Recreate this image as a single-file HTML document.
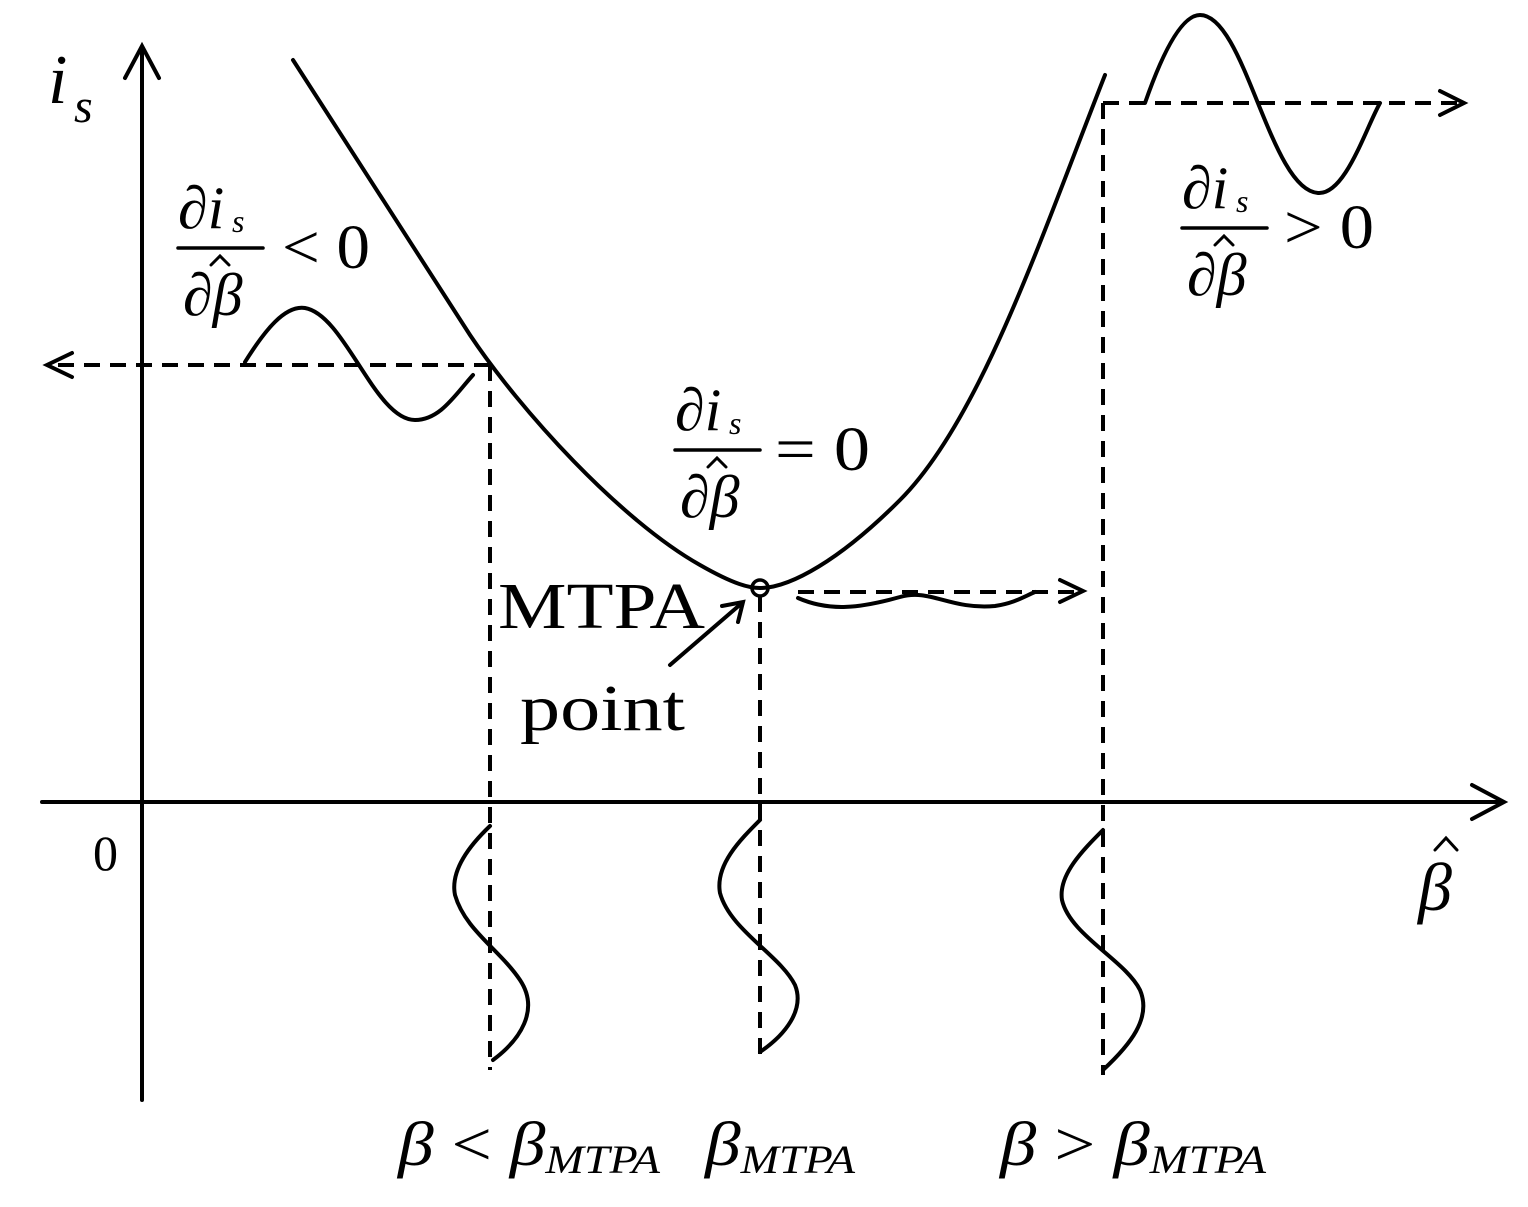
<!DOCTYPE html>
<html><head><meta charset="utf-8"><style>html,body{margin:0;padding:0;background:#fff}svg{display:block}text{font-family:"Liberation Serif","DejaVu Serif",serif;fill:#000}</style></head><body>
<svg width="1528" height="1207" viewBox="0 0 1528 1207" xmlns="http://www.w3.org/2000/svg">
<g fill="none" stroke="#000" stroke-width="4" stroke-linecap="round">
<line x1="142" y1="1100" x2="142" y2="48"/>
<polyline points="125,78 142,46 159,78"/>
<line x1="42" y1="802" x2="1503" y2="802"/>
<polyline points="1472,785 1504,802 1472,819"/>
<path d="M293,60 L470,335 C520,410 620,520 700,565 C735,585 750,588 760,588 C790,588 840,560 900,500 C980,420 1040,240 1105,75"/>
<circle cx="760" cy="588" r="8" stroke-width="3.5"/>
<g stroke-dasharray="16,10" stroke-linecap="butt">
<line x1="490" y1="365" x2="52" y2="365"/>
<line x1="490" y1="365" x2="490" y2="1070"/>
<line x1="760" y1="596" x2="760" y2="1055"/>
<line x1="1103" y1="103" x2="1103" y2="1075"/>
<line x1="1103" y1="103" x2="1460" y2="103"/>
<line x1="798" y1="592" x2="1082" y2="592"/>
</g>
<polyline points="72,353 47,365 72,377"/>
<polyline points="1440,91 1464,103 1440,115"/>
<polyline points="1060,580 1083,591 1060,602"/>
<path d="M245,362 C265,330 285,305 305,308 C345,315 375,420 415,420 C440,420 455,395 473,375"/>
<path d="M1145,103 C1160,60 1180,15 1200,15 C1245,15 1270,190 1318,193 C1345,195 1365,130 1380,103"/>
<path d="M798,598 C830,612 860,608 900,597 C930,588 950,610 995,606 C1015,603 1025,596 1035,592"/>
<path d="M490,826 C470,845 450,870 455,895 C465,930 500,950 520,980 C540,1010 520,1040 493,1060"/>
<path d="M760,820 C740,840 715,865 720,893 C730,930 780,955 795,985 C805,1010 785,1035 760,1052"/>
<path d="M1103,830 C1083,850 1058,875 1062,900 C1070,935 1125,960 1140,990 C1152,1018 1130,1045 1103,1070"/>
<line x1="670" y1="665" x2="742" y2="603"/>
<polyline points="722,606 743,602 738,622"/>
<line x1="178" y1="248" x2="263" y2="248" stroke-width="3.5"/>
<line x1="675" y1="450" x2="760" y2="450" stroke-width="3.5"/>
<line x1="1182" y1="228" x2="1267" y2="228" stroke-width="3.5"/>
<g stroke-width="3">
<polyline points="211,265 220,256 229,265"/>
<polyline points="708,467 717,458 726,467"/>
<polyline points="1215,245 1224,236 1233,245"/>
<polyline points="1435,850 1446,838 1457,850"/>
</g>
</g>
<text x="48" y="103" font-size="70" font-style="italic">i</text>
<text x="74" y="122" font-size="48" font-style="italic">s</text>
<text x="93" y="870" font-size="50">0</text>
<text x="1418" y="910" font-size="68" font-style="italic">β</text>
<text x="178" y="228" font-size="60">∂<tspan font-style="italic">i</tspan></text>
<text x="232" y="232" font-size="32" font-style="italic">s</text>
<text x="183" y="315" font-size="60">∂<tspan font-style="italic">β</tspan></text>
<text x="282" y="268" font-size="62" textLength="88" lengthAdjust="spacingAndGlyphs">&lt; 0</text>
<text x="675" y="430" font-size="60">∂<tspan font-style="italic">i</tspan></text>
<text x="729" y="434" font-size="32" font-style="italic">s</text>
<text x="680" y="517" font-size="60">∂<tspan font-style="italic">β</tspan></text>
<text x="775" y="470" font-size="62" textLength="95" lengthAdjust="spacingAndGlyphs">= 0</text>
<text x="1182" y="208" font-size="60">∂<tspan font-style="italic">i</tspan></text>
<text x="1236" y="212" font-size="32" font-style="italic">s</text>
<text x="1187" y="295" font-size="60">∂<tspan font-style="italic">β</tspan></text>
<text x="1284" y="248" font-size="62" textLength="90" lengthAdjust="spacingAndGlyphs">&gt; 0</text>
<text x="498" y="628" font-size="66" textLength="207" lengthAdjust="spacingAndGlyphs">MTPA</text>
<text x="520" y="730" font-size="66" textLength="165" lengthAdjust="spacingAndGlyphs">point</text>
<text x="398" y="1165" font-size="62" font-style="italic" textLength="262" lengthAdjust="spacingAndGlyphs">β <tspan font-style="normal">&lt;</tspan> β<tspan font-size="40" dy="8">MTPA</tspan></text>
<text x="705" y="1165" font-size="62" font-style="italic" textLength="150" lengthAdjust="spacingAndGlyphs">β<tspan font-size="40" dy="8">MTPA</tspan></text>
<text x="1000" y="1165" font-size="62" font-style="italic" textLength="266" lengthAdjust="spacingAndGlyphs">β <tspan font-style="normal">&gt;</tspan> β<tspan font-size="40" dy="8">MTPA</tspan></text>
</svg>
</body></html>
